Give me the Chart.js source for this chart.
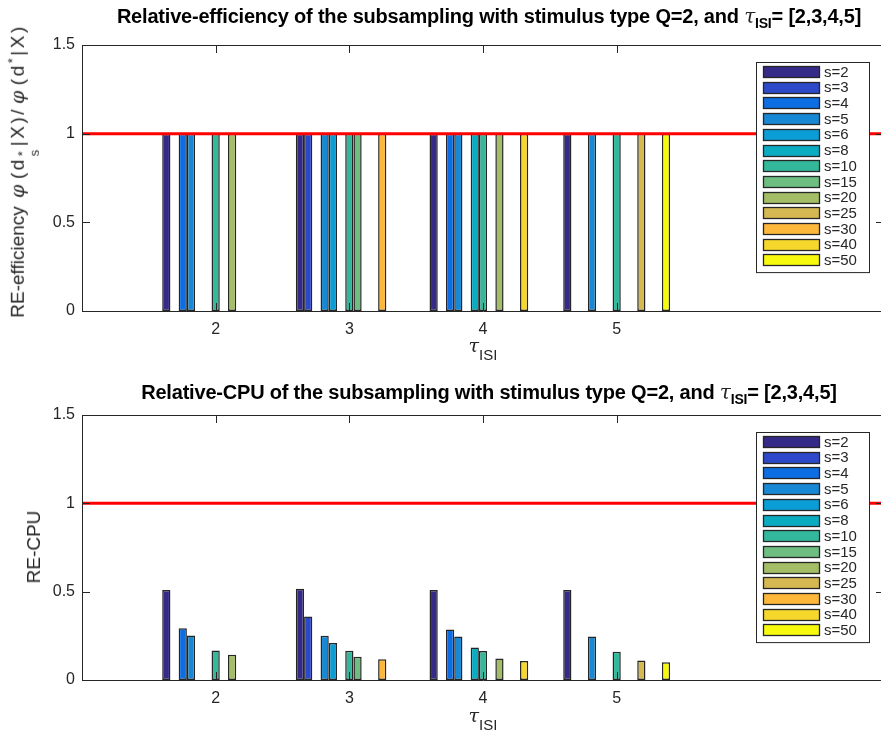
<!DOCTYPE html>
<html>
<head>
<meta charset="utf-8">
<script src="https://cdn.jsdelivr.net/npm/chart.js@4/dist/chart.umd.min.js"></script>
<style>
  html, body { margin: 0; padding: 0; background: #fff; overflow: hidden; width: 881px; height: 734px; }
  body { position: relative; font-family: "Liberation Sans", Arial, sans-serif; color: #262626; }
  canvas { position: absolute; left: 0; }
  #c1 { top: 0; }
  #c2 { top: 370px; }
  .title { position: absolute; left: 88px; width: 802px; text-align: center; font-weight: bold; font-size: 20px; color: #000; white-space: nowrap; letter-spacing: -0.2px; }
  .tau { font-family: "DejaVu Serif", serif; font-style: italic; font-weight: normal; color: #262626; }
  .title sub { font-size: 14px; vertical-align: -5px; }
  .xlab { position: absolute; left: 82px; width: 802px; text-align: center; font-size: 19px; }
  .xlab sub { font-size: 15px; vertical-align: -8px; }
  .ylab { position: absolute; transform: translate(-50%, -50%) rotate(-90deg); font-size: 19px; white-space: nowrap; }
  .expr { letter-spacing: 2.5px; }
  .phi { font-family: "DejaVu Serif", serif; font-style: italic; padding: 0 3px; }
  .stack { display: inline-flex; flex-direction: column; font-size: 13px; line-height: 12px; vertical-align: -3px; padding: 0 1px; }
  .ylab sup { font-size: 13px; }
</style>
</head>
<body>
<canvas id="c1" width="884" height="367"></canvas>
<canvas id="c2" width="884" height="364"></canvas>

<div class="title" style="top:4px">Relative-efficiency of the subsampling with stimulus type Q=2, and <span class="tau">τ</span><sub>ISI</sub>= [2,3,4,5]</div>
<div class="title" style="top:380px">Relative-CPU of the subsampling with stimulus type Q=2, and <span class="tau">τ</span><sub>ISI</sub>= [2,3,4,5]</div>

<div class="xlab" style="top:334px"><span class="tau">τ</span><sub>ISI</sub></div>
<div class="xlab" style="top:704px"><span class="tau">τ</span><sub>ISI</sub></div>

<div class="ylab" style="left:23px; top:171px">RE-efficiency <span class="expr"><span class="phi">φ</span>(d<span class="stack"><span>*</span><span>s</span></span>|X)/<span class="phi">φ</span>(d<sup>*</sup>|X)</span></div>
<div class="ylab" style="left:34px; top:547px">RE-CPU</div>

<script>
// tau_ISI groups on the x axis
var tauValues = [2, 3, 4, 5];
var seriesNames = ["s=2", "s=3", "s=4", "s=5", "s=6", "s=8", "s=10", "s=15", "s=20", "s=25", "s=30", "s=40", "s=50"];
var seriesColors = ["#352A87", "#2D48C8", "#0D6DE3", "#1888D4", "#0A9DD6", "#0AACC2", "#34B89C",
                    "#6DBE80", "#A3BE66", "#D6B852", "#FDB83B", "#F6D72C", "#F8FA0D"];

// relative efficiency, one value per s, for each tau
var effTau2 = [1, 0, 1, 1, 0, 0, 1, 0, 1, 0, 0, 0, 0];
var effTau3 = [1, 1, 0, 1, 1, 0, 1, 1, 0, 0, 1, 0, 0];
var effTau4 = [1, 0, 1, 1, 0, 1, 1, 0, 1, 0, 0, 1, 0];
var effTau5 = [1, 0, 0, 1, 0, 0, 1, 0, 0, 1, 0, 0, 1];

// relative CPU, one value per s, for each tau
var cpuTau2 = [0.509, 0, 0.293, 0.252, 0, 0, 0.167, 0, 0.143, 0, 0, 0, 0];
var cpuTau3 = [0.517, 0.359, 0, 0.25, 0.21, 0, 0.165, 0.131, 0, 0, 0.117, 0, 0];
var cpuTau4 = [0.509, 0, 0.286, 0.246, 0, 0.184, 0.164, 0, 0.122, 0, 0, 0.107, 0];
var cpuTau5 = [0.509, 0, 0, 0.246, 0, 0, 0.16, 0, 0, 0.111, 0, 0, 0.1];

// red reference line
var refLineX = [1, 7];
var refLineY = [1, 1];

var axisColor = "#262626";
var fontFamily = "'Liberation Sans', Arial, sans-serif";

// MATLAB style box with ticks pointing inwards
var matlabBox = {
    id: "matlabBox",
    afterDraw: function(chart) {
        var ctx = chart.ctx, a = chart.chartArea;
        var x = chart.scales.x, y = chart.scales.y;
        var len = 8;
        ctx.save();
        ctx.strokeStyle = axisColor;
        ctx.lineWidth = 1;
        ctx.beginPath();
        ctx.rect(Math.round(a.left) + 0.5, Math.round(a.top) + 0.5, a.right - a.left, Math.round(a.bottom - a.top));
        x.ticks.forEach(function(t) {
            var px = Math.round(x.getPixelForValue(t.value)) + 0.5;
            ctx.moveTo(px, a.bottom); ctx.lineTo(px, a.bottom - len);
            ctx.moveTo(px, a.top); ctx.lineTo(px, a.top + len);
        });
        y.ticks.forEach(function(t) {
            var py = Math.round(y.getPixelForValue(t.value)) + 0.5;
            ctx.moveTo(a.left, py); ctx.lineTo(a.left + len, py);
            ctx.moveTo(a.right, py); ctx.lineTo(a.right - len, py);
        });
        ctx.stroke();
        ctx.restore();
    }
};

// legend box inside the axes, top right
var boxLegend = {
    id: "boxLegend",
    afterDraw: function(chart) {
        var ctx = chart.ctx, a = chart.chartArea;
        var bars = chart.data.datasets.filter(function(d) { return d.type !== "line"; });
        var left = 756.5, right = 869.5, top = Math.round(a.top) + 17.5;
        var pitch = 15.7;
        var h = bars.length * pitch + 6;
        ctx.save();
        ctx.fillStyle = "#fff";
        ctx.fillRect(left, top, right - left, h);
        ctx.strokeStyle = axisColor;
        ctx.lineWidth = 1;
        ctx.strokeRect(left, top, right - left, h);
        ctx.font = "15px " + fontFamily;
        ctx.textBaseline = "middle";
        bars.forEach(function(d, i) {
            var cy = top + 9 + i * pitch;
            ctx.fillStyle = d.backgroundColor;
            ctx.fillRect(763.5, Math.round(cy - 5.5) + 0.5, 56, 11);
            ctx.lineWidth = 1.3;
            ctx.strokeRect(763.5, Math.round(cy - 5.5) + 0.5, 56, 11);
            ctx.fillStyle = axisColor;
            ctx.fillText(d.label, 824, cy + 1);
        });
        ctx.restore();
    }
};

function makeDatasets(tau2, tau3, tau4, tau5) {
    var sets = seriesNames.map(function(name, i) {
        return {
            label: name,
            data: [tau2[i], tau3[i], tau4[i], tau5[i]].map(function(v, j) { return { x: tauValues[j], y: v }; }),
            backgroundColor: seriesColors[i],
            borderColor: axisColor,
            borderWidth: 1.5,
            borderSkipped: false,
            categoryPercentage: 0.8,
            barPercentage: 1.0
        };
    });
    sets.push({
        type: "line",
        label: "ref",
        data: refLineX.map(function(v, j) { return { x: v, y: refLineY[j] }; }),
        borderColor: "#FF0000",
        borderWidth: 3,
        pointRadius: 0,
        order: -1
    });
    return sets;
}

function makeChart(id, datasets, xHeight) {
    return new Chart(id, {
        type: "bar",
        data: { datasets: datasets },
        options: {
            responsive: false,
            animation: false,
            layout: { padding: { top: 45, left: 0, right: 0, bottom: 0 } },
            plugins: { legend: { display: false }, tooltip: { enabled: false } },
            scales: {
                x: {
                    type: "linear",
                    min: 1,
                    max: 7,
                    offset: false,
                    grid: { display: false, drawTicks: false },
                    border: { display: false },
                    afterBuildTicks: function(scale) {
                        scale.ticks = tauValues.map(function(v) { return { value: v }; });
                    },
                    afterFit: function(scale) { scale.height = xHeight; },
                    ticks: {
                        padding: 9,
                        color: axisColor,
                        font: { family: fontFamily, size: 16 },
                        callback: function(v) { return String(v); }
                    }
                },
                y: {
                    min: 0,
                    max: 1.5,
                    grid: { display: false, drawTicks: false },
                    border: { display: false },
                    afterFit: function(scale) { scale.width = 82; },
                    ticks: {
                        stepSize: 0.5,
                        padding: 7,
                        color: axisColor,
                        font: { family: fontFamily, size: 16 },
                        callback: function(v) { return String(v); }
                    }
                }
            }
        },
        plugins: [matlabBox, boxLegend]
    });
}

makeChart("c1", makeDatasets(effTau2, effTau3, effTau4, effTau5), 56);
makeChart("c2", makeDatasets(cpuTau2, cpuTau3, cpuTau4, cpuTau5), 54);
</script>
</body>
</html>
